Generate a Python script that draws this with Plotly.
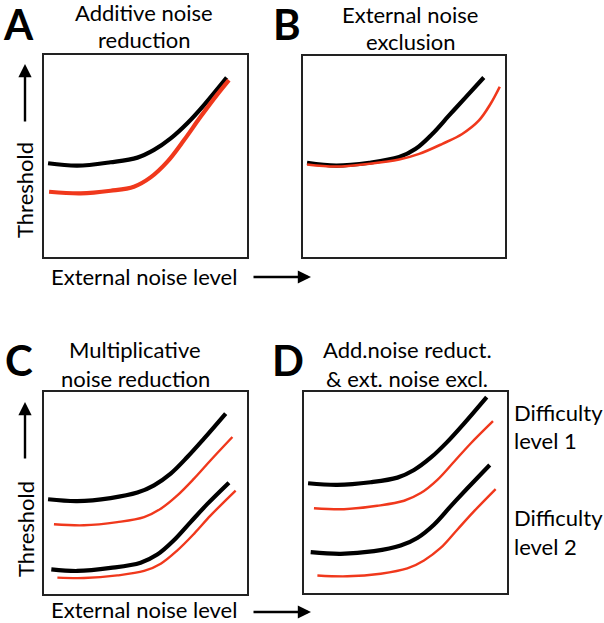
import plotly.graph_objects as go

W, H = 604, 623
FONT = "Lato"
RED = "#f0381c"
BLACK = "#000000"

# ---- data (x: external noise level, y: threshold, arbitrary 0-100 units) ----
a_black_x = [2.0, 16.4, 32.8, 46.0, 54.2, 62.4, 70.6, 78.8, 90.0]
a_black_y = [46.4, 45.2, 46.9, 49.2, 53.0, 58.7, 66.2, 75.2, 88.8]
a_red_x = [2.5, 18.1, 32.8, 44.3, 52.5, 60.8, 69.0, 77.2, 85.4, 91.1]
a_red_y = [32.3, 31.5, 32.8, 34.8, 39.4, 47.2, 57.9, 69.5, 80.5, 87.6]

b_black_x = [2.0, 16.4, 32.8, 47.6, 55.8, 64.0, 72.2, 80.5, 89.5]
b_black_y = [46.9, 45.5, 46.9, 49.7, 53.8, 61.2, 70.3, 79.4, 89.3]
b_red_x = [2.0, 16.4, 32.8, 47.6, 57.5, 69.0, 78.8, 87.0, 92.8, 97.4]
b_red_y = [46.0, 45.0, 46.4, 48.5, 51.3, 56.3, 61.2, 67.8, 76.1, 84.7]

c_black1_x = [2.0, 16.4, 32.8, 46.0, 54.2, 62.4, 70.6, 78.8, 89.5]
c_black1_y = [46.9, 46.0, 47.5, 50.2, 53.8, 59.6, 67.8, 76.9, 89.3]
c_red1_x = [4.9, 19.7, 36.1, 49.3, 57.5, 65.7, 73.9, 82.1, 92.8]
c_red1_y = [34.5, 34.0, 35.6, 38.1, 42.2, 48.8, 57.1, 66.2, 77.7]
c_black2_x = [3.6, 16.4, 32.8, 47.6, 55.8, 64.0, 72.2, 80.5, 91.1]
c_black2_y = [12.2, 11.4, 12.9, 15.5, 19.5, 26.6, 35.6, 44.6, 55.1]
c_red2_x = [6.6, 19.7, 36.1, 49.3, 57.5, 65.7, 73.9, 82.1, 94.4]
c_red2_y = [8.1, 7.9, 9.2, 11.4, 15.0, 21.6, 29.8, 38.9, 51.2]

d_black1_x = [2.0, 16.4, 32.8, 46.0, 54.2, 62.4, 70.6, 78.8, 90.0]
d_black1_y = [54.6, 53.8, 55.1, 57.4, 61.2, 67.3, 75.2, 84.3, 97.5]
d_red1_x = [4.9, 19.7, 36.1, 49.3, 57.5, 65.7, 73.9, 82.1, 93.1]
d_red1_y = [42.2, 41.7, 43.4, 45.9, 49.7, 56.3, 65.3, 74.4, 85.5]
d_black2_x = [3.3, 18.1, 34.5, 47.6, 55.8, 64.0, 72.2, 80.5, 91.5]
d_black2_y = [20.3, 19.5, 20.8, 23.6, 27.4, 34.0, 43.1, 52.1, 63.7]
d_red2_x = [6.6, 21.3, 37.8, 50.9, 59.1, 67.3, 75.5, 83.7, 94.4]
d_red2_y = [8.7, 8.3, 9.6, 12.2, 16.2, 22.4, 31.5, 40.6, 51.7]

panel_letters = ["A", "B", "C", "D"]
panel_titles = [
    ["Additive noise", "reduction"],
    ["External noise", "exclusion"],
    ["Multiplicative", "noise reduction"],
    ["Add.noise reduct.", "& ext. noise excl."],
]
y_label = "Threshold"
x_label = "External noise level"
difficulty_labels = [["Difficulty", "level 1"], ["Difficulty", "level 2"]]

# ---- layout helpers (pixel -> paper) ----
def px(x):
    return x / W

def py(y):
    return 1 - y / H

# panel boxes in pixels: (left, right, top, bottom)
boxes = [(44, 247, 55, 257), (303, 505, 56, 257), (44, 247, 392, 594), (304, 507, 392, 593)]

fig = go.Figure()

curves = [
    [(a_black_x, a_black_y, BLACK, 4.2), (a_red_x, a_red_y, RED, 4.2)],
    [(b_black_x, b_black_y, BLACK, 4.2), (b_red_x, b_red_y, RED, 2.6)],
    [(c_black1_x, c_black1_y, BLACK, 4.2), (c_red1_x, c_red1_y, RED, 2.4),
     (c_black2_x, c_black2_y, BLACK, 4.2), (c_red2_x, c_red2_y, RED, 2.4)],
    [(d_black1_x, d_black1_y, BLACK, 4.2), (d_red1_x, d_red1_y, RED, 2.4),
     (d_black2_x, d_black2_y, BLACK, 4.2), (d_red2_x, d_red2_y, RED, 2.4)],
]

layout_axes = {}
for i, (box, cset) in enumerate(zip(boxes, curves)):
    n = "" if i == 0 else str(i + 1)
    l, r, t, b = box
    axcommon = dict(range=[0, 100], showgrid=False, zeroline=False, showticklabels=False,
                    ticks="", showline=True, mirror=True, linecolor="#222222", linewidth=1.6,
                    fixedrange=True)
    layout_axes["xaxis" + n] = dict(domain=[px(l), px(r)], anchor="y" + n, **axcommon)
    layout_axes["yaxis" + n] = dict(domain=[py(b), py(t)], anchor="x" + n, **axcommon)
    for xs, ys, col, lw in cset:
        fig.add_trace(go.Scatter(x=xs, y=ys, mode="lines", xaxis="x" + n, yaxis="y" + n,
                                 line=dict(color=col, width=lw, shape="spline", smoothing=1.0),
                                 showlegend=False, hoverinfo="skip"))

fig.update_layout(**layout_axes)

ann = []
# panel letters
letter_pos = [(18, 24), (287, 24), (19, 360), (288, 360)]
for L, (lx, ly) in zip(panel_letters, letter_pos):
    ann.append(dict(text="<b>%s</b>" % L, x=px(lx), y=py(ly), xref="paper", yref="paper",
                    showarrow=False, xanchor="center", yanchor="middle",
                    font=dict(family=FONT, size=42, color="black")))
# titles
title_pos = [(144, 13, 40), (410, 14, 42), (135, 349, 378), (407, 349, 378)]
for (l1, l2), (tx, y1, y2) in zip(panel_titles, title_pos):
    for txt, yy in ((l1, y1), (l2, y2)):
        ann.append(dict(text=txt, x=px(tx), y=py(yy), xref="paper", yref="paper",
                        showarrow=False, xanchor="center", yanchor="middle",
                        font=dict(family=FONT, size=22, color="black")))
# axis labels (panels A and C)
for yc, xy in ((190, 276), (529, 609)):
    ann.append(dict(text=y_label, x=px(25), y=py(yc), xref="paper", yref="paper",
                    showarrow=False, textangle=-90, xanchor="center", yanchor="middle",
                    font=dict(family=FONT, size=22, color="black")))
    ann.append(dict(text=x_label, x=px(144), y=py(xy), xref="paper", yref="paper",
                    showarrow=False, xanchor="center", yanchor="middle",
                    font=dict(family=FONT, size=22, color="black")))
# arrows (head at x1,y1; tail at x0,y0 in pixels)
for (x0, y0, x1, y1) in ((25, 123, 25, 64), (25, 460, 25, 402), (252, 277, 311, 277), (252, 612, 311, 612)):
    ann.append(dict(x=px(x1), y=py(y1), ax=x0 - x1, ay=y0 - y1, xref="paper", yref="paper",
                    axref="pixel", ayref="pixel", text="", showarrow=True,
                    arrowhead=2, arrowsize=1.1, arrowwidth=2.4, arrowcolor="black"))
# difficulty labels
for (l1, l2), (y1, y2) in zip(difficulty_labels, ((412, 440), (517, 546))):
    for txt, yy in ((l1, y1), (l2, y2)):
        ann.append(dict(text=txt, x=px(512), y=py(yy), xref="paper", yref="paper",
                        showarrow=False, xanchor="left", yanchor="middle",
                        font=dict(family=FONT, size=22, color="black")))

fig.update_layout(annotations=ann, width=W, height=H, margin=dict(l=0, r=0, t=0, b=0),
                  paper_bgcolor="white", plot_bgcolor="white", showlegend=False)

fig.write_html("out.html", config={"displayModeBar": False},
               post_script="document.body.style.margin='0';document.body.style.overflow='hidden';")
